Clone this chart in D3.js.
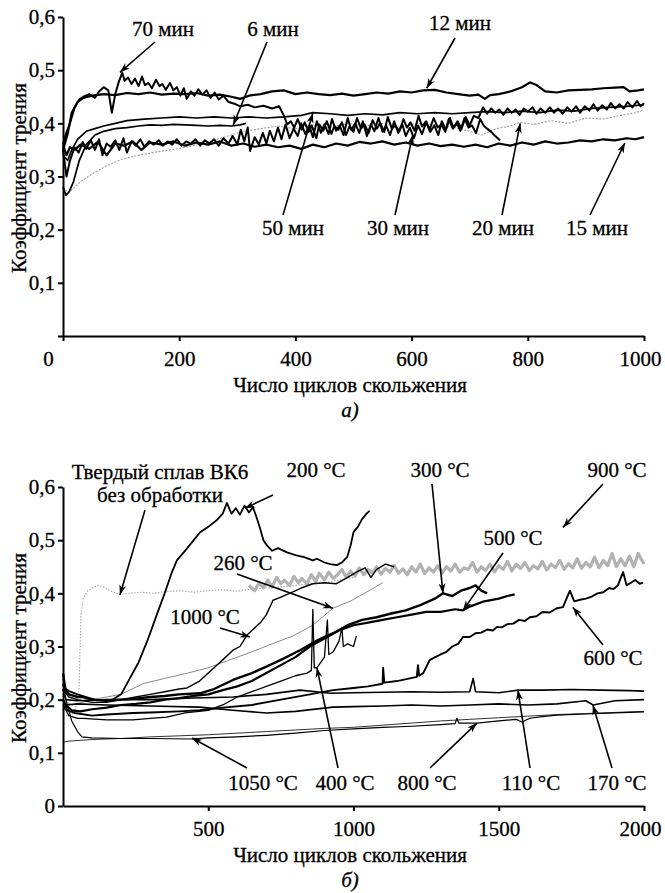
<!doctype html>
<html lang="ru">
<head>
<meta charset="utf-8">
<title>Коэффициент трения</title>
<script src="https://d3js.org/d3.v7.min.js"></script>
<style>
  body { margin: 0; background: #fff; }
  .axis path, .axis line { stroke: #000; stroke-width: 2; }
  .axis text { font-size: 21px; fill: #000; stroke: #000; stroke-width: 0.3; }
  .lbl { font-size: 21px; fill: #000; stroke: #000; stroke-width: 0.3; text-anchor: middle; }
  .arrow { stroke: #000; stroke-width: 1.6; fill: none; }
  .curve { fill: none; stroke-linejoin: round; }
</style>
</head>
<body>
<svg id="chart" width="665" height="893"></svg>
<script>
const FONT = "'Liberation Serif', 'DejaVu Serif', serif";

// ---------- panel a: cycles (0..1000) vs friction coefficient ----------
const min12 = [[0,.35],[8,.38],[15,.42],[25,.44],[35,.448],[50,.452],[70,.455],[90,.453],[110,.457],[130,.455],[150,.458],[170,.454],[190,.456],[210,.455],[230,.457],[250,.452],[270,.454],[290,.45],[305,.446],[320,.452],[340,.455],[360,.46],[380,.462],[400,.455],[420,.458],[440,.455],[460,.453],[480,.456],[500,.452],[520,.455],[540,.458],[560,.456],[580,.46],[600,.458],[620,.462],[640,.463],[660,.458],[680,.455],[700,.452],[715,.454],[726,.446],[735,.453],[750,.455],[770,.46],[790,.468],[804,.477],[815,.472],[830,.46],[850,.458],[870,.462],[890,.463],[910,.464],[930,.466],[950,.467],[965,.468],[975,.46],[990,.462],[1000,.464]];
const min70 = [[0,.36],[5,.38],[12,.40],[20,.43],[28,.445],[35,.45],[45,.455],[55,.448],[62,.46],[70,.468],[78,.462],[84,.42],[90,.455],[96,.478],[102,.495],[106,.48],[112,.486],[118,.474],[124,.484],[130,.47],[136,.488],[141,.472],[147,.476],[153,.466],[160,.482],[166,.47],[171,.474],[177,.463],[184,.476],[190,.462],[196,.468],[202,.452],[208,.466],[213,.446],[220,.46],[226,.452],[233,.464],[240,.454],[247,.462],[254,.448],[261,.458],[268,.445],[276,.452],[285,.44],[295,.437],[305,.432],[318,.435],[330,.43],[345,.433],[360,.428],[372,.432],[380,.415],[386,.398],[392,.404],[398,.392],[404,.408],[411,.388],[416,.402],[423,.384],[428,.396],[436,.372],[441,.398],[448,.386],[454,.404],[462,.38],[467,.395],[474,.388],[480,.402],[487,.378],[493,.394],[500,.384],[506,.41],[513,.39],[519,.398],[526,.382],[533,.406],[540,.39],[546,.4],[553,.384],[559,.412],[566,.39],[572,.396],[579,.385],[586,.408],[592,.392],[598,.402],[605,.386],[612,.414],[618,.394],[625,.404],[631,.388],[638,.41],[645,.392],[651,.398],[658,.384],[664,.408],[671,.39],[678,.4],[684,.386],[691,.41],[698,.392],[704,.396],[711,.382],[718,.408],[724,.396],[730,.39],[737,.384],[744,.376],[752,.368]];
const min30 = [[0,.35],[6,.30],[12,.33],[20,.355],[27,.345],[34,.365],[40,.352],[48,.368],[55,.35],[62,.37],[68,.34],[75,.362],[82,.356],[90,.368],[97,.35],[104,.372],[110,.345],[118,.366],[125,.358],[133,.37],[140,.356],[148,.366],[156,.36],[165,.368],[172,.358],[180,.366],[188,.36],[196,.37],[204,.358],[212,.366],[220,.362],[228,.37],[236,.358],[244,.368],[252,.362],[260,.37],[268,.358],[276,.372],[285,.362],[292,.376],[300,.36],[306,.388],[312,.366],[318,.392],[322,.348],[330,.374],[337,.36],[344,.382],[350,.362],[356,.386],[363,.366],[370,.392],[376,.37],[383,.398],[390,.372],[397,.39],[404,.376],[410,.40],[417,.38],[424,.396],[430,.374],[437,.404],[444,.382],[450,.398],[457,.38],[463,.408],[470,.386],[476,.396],[483,.378],[490,.41],[496,.388],[503,.4],[510,.382],[516,.404],[523,.376],[530,.398],[536,.385],[543,.41],[550,.384],[556,.396],[563,.378],[570,.404],[577,.382],[584,.398],[590,.376],[597,.392],[604,.372],[611,.396],[618,.38],[625,.402],[632,.384],[639,.396],[646,.378],[652,.404],[659,.388],[666,.41],[672,.392],[679,.404],[686,.39],[693,.412],[700,.396],[707,.414],[715,.41],[723,.43],[730,.418],[737,.428],[744,.42],[751,.426],[758,.416],[765,.428],[772,.42],[779,.426],[786,.416],[793,.428],[800,.422],[808,.43],[815,.418],[822,.428],[830,.42],[838,.43],[845,.42],[852,.428],[860,.418],[868,.43],[875,.422],[883,.432],[890,.42],[898,.432],[906,.424],[913,.436],[920,.424],[928,.434],[936,.426],[943,.438],[950,.428],[958,.436],[965,.428],[972,.44],[980,.43],[988,.442],[994,.432],[1000,.438]];
const min50 = [[0,.34],[8,.33],[15,.35],[25,.37],[40,.385],[55,.39],[70,.395],[90,.40],[110,.405],[140,.408],[170,.41],[200,.412],[230,.41],[260,.412],[290,.41],[320,.412],[350,.41],[380,.412],[410,.415],[430,.42],[460,.418],[490,.415],[520,.418],[550,.416],[580,.42],[610,.418],[640,.42],[670,.418],[700,.42],[730,.422],[760,.42],[790,.423],[820,.42],[850,.425],[880,.423],[910,.428],[940,.43],[970,.432],[1000,.435]];
const min6 = [[0,.28],[5,.265],[10,.27],[18,.29],[28,.33],[40,.36],[55,.378],[70,.385],[90,.39],[110,.392],[130,.395],[150,.397],[170,.396],[190,.398],[210,.397],[230,.396],[250,.395],[270,.396],[290,.395],[305,.397],[315,.40]];
const min20 = [[0,.28],[8,.27],[15,.275],[30,.29],[50,.305],[75,.32],[100,.332],[130,.34],[160,.346],[196,.352],[225,.358],[253,.366],[280,.375],[310,.385],[340,.39],[370,.395],[400,.39],[430,.397],[460,.392],[490,.40],[520,.395],[550,.40],[580,.393],[610,.40],[640,.397],[670,.393],[700,.385],[720,.378],[745,.39],[770,.395],[786,.402],[810,.398],[840,.405],[870,.40],[900,.41],[930,.408],[960,.415],[985,.42],[1000,.425]];
const min15 = [[0,.36],[6,.34],[12,.355],[20,.35],[30,.36],[45,.352],[60,.365],[75,.34],[90,.362],[105,.358],[120,.366],[135,.35],[150,.364],[170,.36],[190,.366],[210,.358],[230,.364],[250,.36],[270,.366],[290,.358],[310,.362],[330,.356],[350,.36],[370,.355],[390,.358],[410,.352],[430,.36],[450,.355],[470,.362],[490,.358],[510,.365],[530,.362],[550,.366],[570,.36],[590,.364],[610,.358],[630,.362],[650,.357],[670,.36],[690,.356],[710,.36],[730,.355],[750,.362],[770,.358],[790,.364],[810,.36],[830,.366],[850,.362],[870,.364],[890,.368],[910,.366],[930,.37],[950,.368],[970,.372],[985,.37],[1000,.374]];

// ---------- panel b: cycles (0..2000) ----------
const vk6 = [[0,.17],[20,.17],[40,.175],[55,.22],[62,.36],[70,.39],[85,.405],[100,.41],[120,.415],[140,.412],[160,.405],[196,.398],[230,.40],[270,.402],[310,.40],[350,.403],[400,.405],[450,.402],[500,.405],[550,.407],[600,.404],[650,.408],[700,.41],[750,.412],[800,.415],[850,.418],[900,.42],[950,.425],[1000,.43]];
const t900 = [[640,.415],[660,.405],[675,.42],[690,.41],[705,.425],[720,.412],[735,.43],[750,.418],[762,.425],[780,.415],[795,.432],[810,.42],[822,.428],[840,.418],[855,.435],[870,.422],[882,.438],[900,.425],[915,.44],[930,.428],[945,.435],[960,.445],[975,.43],[990,.442],[1005,.432],[1020,.448],[1035,.435],[1050,.445],[1065,.438],[1080,.45],[1095,.436],[1110,.447],[1125,.44],[1140,.452],[1155,.438],[1170,.446],[1185,.435],[1200,.45],[1215,.44],[1230,.455],[1245,.437],[1260,.448],[1275,.44],[1290,.452],[1305,.438],[1320,.45],[1335,.442],[1350,.455],[1365,.44],[1380,.448],[1395,.445],[1410,.458],[1425,.44],[1440,.45],[1455,.443],[1470,.455],[1485,.44],[1500,.452],[1515,.445],[1530,.46],[1545,.442],[1560,.455],[1575,.447],[1590,.458],[1605,.443],[1620,.452],[1635,.446],[1650,.46],[1665,.444],[1680,.455],[1695,.448],[1710,.462],[1725,.445],[1740,.456],[1755,.448],[1770,.465],[1785,.447],[1800,.458],[1815,.45],[1830,.468],[1845,.448],[1860,.462],[1875,.452],[1890,.475],[1905,.45],[1920,.465],[1935,.452],[1950,.47],[1965,.45],[1980,.475],[2000,.455]];
const t200 = [[0,.23],[10,.22],[25,.215],[50,.21],[80,.205],[110,.2],[140,.198],[170,.2],[200,.21],[230,.24],[260,.27],[290,.31],[323,.36],[350,.40],[375,.44],[392,.462],[420,.48],[450,.50],[472,.515],[500,.525],[530,.538],[550,.55],[564,.57],[580,.55],[595,.56],[609,.548],[625,.565],[640,.552],[654,.562],[665,.545],[678,.523],[690,.50],[702,.49],[720,.48],[740,.485],[771,.477],[800,.472],[830,.468],[860,.462],[874,.465],[900,.458],[920,.455],[943,.453],[960,.458],[978,.468],[990,.49],[1000,.515],[1015,.525],[1030,.54],[1045,.55],[1055,.555]];
const t260 = [[0,.2],[30,.19],[100,.2],[200,.21],[275,.23],[350,.24],[430,.25],[500,.26],[575,.275],[650,.29],[720,.305],[792,.32],[860,.34],[929,.372],[988,.385],[1057,.406],[1100,.42]];
const t1000 = [[0,.22],[20,.205],[50,.2],[100,.195],[150,.195],[200,.2],[250,.205],[300,.21],[350,.215],[400,.22],[427,.222],[470,.235],[520,.26],[560,.28],[585,.293],[609,.30],[633,.321],[650,.33],[680,.345],[700,.36],[723,.387],[750,.393],[780,.40],[820,.41],[860,.418],[900,.42],[940,.418],[980,.43],[1010,.44],[1040,.448],[1060,.43],[1080,.445],[1110,.455],[1140,.45]];
const t300 = [[0,.25],[8,.22],[20,.21],[50,.205],[69,.205],[100,.2],[150,.198],[200,.2],[250,.202],[300,.205],[350,.207],[400,.21],[471,.212],[520,.22],[585,.237],[650,.25],[700,.262],[750,.275],[816,.293],[870,.31],[930,.325],[980,.34],[1030,.35],[1080,.355],[1130,.362],[1180,.368],[1230,.378],[1280,.39],[1308,.40],[1340,.395],[1370,.405],[1400,.41],[1420,.415],[1440,.405],[1460,.40]];
const t500 = [[0,.2],[10,.19],[30,.18],[60,.178],[100,.182],[150,.185],[200,.19],[250,.192],[300,.195],[350,.2],[400,.203],[450,.207],[500,.21],[550,.218],[600,.225],[650,.235],[700,.25],[750,.265],[800,.28],[850,.3],[900,.315],[950,.33],[1000,.34],[1050,.345],[1100,.35],[1150,.355],[1200,.36],[1250,.365],[1300,.365],[1350,.37],[1377,.368],[1400,.375],[1450,.385],[1500,.39],[1530,.395],[1555,.398]];
const t400 = [[0,.19],[20,.17],[50,.165],[70,.165],[150,.162],[241,.162],[300,.165],[357,.167],[420,.175],[500,.18],[550,.19],[600,.205],[650,.215],[700,.225],[750,.235],[800,.245],[840,.25],[855,.255],[860,.37],[865,.26],[874,.26],[900,.28],[910,.35],[915,.285],[930,.29],[950,.31],[960,.335],[965,.3],[980,.305],[1000,.3],[1010,.32]];
const t600 = [[0,.2],[15,.18],[40,.175],[100,.17],[150,.172],[241,.175],[300,.176],[400,.178],[471,.18],[550,.185],[650,.19],[750,.2],[850,.21],[930,.218],[1000,.222],[1050,.225],[1100,.23],[1102,.26],[1106,.232],[1150,.235],[1218,.243],[1222,.265],[1226,.245],[1240,.25],[1263,.275],[1300,.285],[1320,.29],[1340,.3],[1360,.305],[1377,.318],[1400,.318],[1420,.325],[1440,.326],[1460,.332],[1480,.33],[1494,.337],[1510,.336],[1530,.342],[1550,.343],[1570,.35],[1590,.348],[1607,.355],[1630,.357],[1650,.365],[1675,.364],[1700,.372],[1721,.374],[1745,.405],[1760,.385],[1780,.388],[1800,.39],[1820,.394],[1840,.40],[1860,.402],[1880,.41],[1895,.408],[1910,.415],[1928,.44],[1940,.415],[1955,.42],[1970,.425],[1985,.418],[1997,.42]];
const t110 = [[0,.22],[10,.2],[50,.198],[154,.2],[300,.2],[450,.203],[585,.205],[700,.21],[816,.218],[920,.212],[1000,.213],[1100,.214],[1200,.215],[1300,.214],[1400,.215],[1412,.24],[1420,.215],[1500,.213],[1567,.218],[1650,.218],[1750,.219],[1850,.218],[1950,.217],[2000,.216]];
const t170 = [[0,.18],[10,.19],[50,.192],[150,.19],[300,.188],[471,.186],[585,.18],[700,.175],[800,.178],[930,.186],[1000,.187],[1100,.188],[1200,.19],[1300,.188],[1400,.19],[1500,.192],[1600,.19],[1700,.192],[1800,.198],[1825,.19],[1900,.198],[2000,.2]];
const t800 = [[0,.23],[10,.2],[30,.16],[50,.14],[65,.13],[100,.128],[200,.127],[300,.127],[443,.126],[500,.128],[600,.13],[700,.133],[800,.137],[900,.142],[1000,.145],[1100,.148],[1200,.15],[1300,.153],[1350,.155],[1356,.165],[1362,.156],[1425,.156],[1500,.16],[1560,.163],[1580,.158],[1607,.165],[1650,.168],[1700,.171],[1800,.173],[1900,.175],[2000,.177]];
const t1050 = [[0,.12],[20,.122],[100,.125],[200,.127],[300,.13],[400,.132],[500,.134],[600,.137],[700,.14],[800,.143],[900,.146],[1000,.148],[1100,.152],[1200,.156],[1300,.16],[1400,.163],[1500,.166],[1600,.169],[1700,.172],[1800,.174],[1900,.176],[2000,.178]];

const yTicks = [0, .1, .2, .3, .4, .5, .6];
const xTicksA = [0, 200, 400, 600, 800, 1000];
const xTicksB = [500, 1000, 1500, 2000];

const svg = d3.select('#chart');

svg.append('defs').append('marker')
  .attr('id', 'arr')
  .attr('viewBox', '0 -4 10 8')
  .attr('refX', 10).attr('refY', 0)
  .attr('markerWidth', 10).attr('markerHeight', 8)
  .attr('markerUnits', 'userSpaceOnUse')
  .attr('orient', 'auto')
  .append('path')
  .attr('d', 'M0,-3.5L10,0L0,3.5L3,0Z')
  .attr('fill', '#000');

const comma = d => d3.format('.1f')(d).replace('.', ',');

function panel(opts) {
  const x = d3.scaleLinear().domain([0, opts.xmax]).range([63, 644]);
  const y = d3.scaleLinear().domain([0, 0.6]).range([opts.y0, opts.y0 - 319]);
  const g = svg.append('g');

  const line = d3.line().x(d => x(d[0])).y(d => y(d[1]));
  g.append('g').selectAll('path')
    .data(opts.series)
    .join('path')
    .attr('class', 'curve')
    .attr('d', d => line(d.data))
    .attr('stroke', d => d.color)
    .attr('stroke-width', d => d.width)
    .attr('stroke-dasharray', d => d.dash || null);

  g.append('g').attr('class', 'axis')
    .attr('transform', 'translate(63,0)')
    .call(d3.axisLeft(y).tickValues(yTicks).tickSize(5).tickSizeOuter(0).tickPadding(3)
      .tickFormat(d => d === 0 ? (opts.yZero ? '0' : '') : comma(d)));
  const xAxis = g.append('g').attr('class', 'axis')
    .attr('transform', 'translate(0,' + opts.y0 + ')')
    .call(d3.axisBottom(x).tickValues(opts.xTicks).tickSize(5).tickSizeOuter(0).tickPadding(10)
      .tickFormat(d3.format('d')));
  xAxis.selectAll('.tick text').filter(d => d === 0).attr('x', -15);
  xAxis.selectAll('.tick text').filter(d => d === opts.xmax).attr('x', -4);
  g.selectAll('.axis').attr('font-size', 21).attr('font-family', FONT);

  g.append('text').attr('class', 'lbl')
    .attr('transform', 'translate(26,' + (opts.y0 - 158) + ') rotate(-90)')
    .text('Коэффициент трения');
  g.append('text').attr('class', 'lbl')
    .attr('x', 350).attr('y', opts.y0 + 56)
    .text('Число циклов скольжения');
  g.append('text').attr('class', 'lbl')
    .attr('x', 350).attr('y', opts.y0 + 81)
    .style('font-style', 'italic')
    .text(opts.tag);

  const notes = g.append('g').selectAll('g').data(opts.notes).join('g');
  notes.append('line').attr('class', 'arrow')
    .attr('x1', d => d.from[0]).attr('y1', d => d.from[1])
    .attr('x2', d => x(d.tip[0])).attr('y2', d => y(d.tip[1]))
    .attr('marker-end', 'url(#arr)');
  notes.each(function (d) {
    d.text.split('\n').forEach((s, i) => {
      d3.select(this).append('text').attr('class', 'lbl')
        .attr('x', d.at[0]).attr('y', d.at[1] + i * 23)
        .text(s);
    });
  });

  g.selectAll('.lbl').attr('font-family', FONT);
}

panel({
  xmax: 1000, y0: 336, xTicks: xTicksA, yZero: false, tag: 'а)',
  series: [
    { data: min20, color: '#9a9a9a', width: 1.1, dash: '2,1.5' },
    { data: min6, color: '#000', width: 1.7 },
    { data: min50, color: '#000', width: 1.7 },
    { data: min15, color: '#000', width: 2.2 },
    { data: min30, color: '#000', width: 2 },
    { data: min70, color: '#000', width: 2 },
    { data: min12, color: '#000', width: 2.2 }
  ],
  notes: [
    { text: '70 мин', at: [163, 36], from: [155, 42], tip: [98, .496] },
    { text: '6 мин', at: [273, 36], from: [267, 42], tip: [293, .397] },
    { text: '12 мин', at: [460, 30], from: [455, 38], tip: [626, .466] },
    { text: '50 мин', at: [293, 235], from: [283, 215], tip: [430, .419] },
    { text: '30 мин', at: [398, 235], from: [395, 215], tip: [602, .378] },
    { text: '20 мин', at: [503, 235], from: [502, 215], tip: [787, .40] },
    { text: '15 мин', at: [597, 235], from: [590, 215], tip: [967, .363] }
  ]
});

panel({
  xmax: 2000, y0: 806, xTicks: xTicksB, yZero: true, tag: 'б)',
  series: [
    { data: vk6, color: '#b0b0b0', width: 1.2, dash: '1.5,1.5' },
    { data: t900, color: '#b2b2b2', width: 3.2 },
    { data: t260, color: '#8a8a8a', width: 1 },
    { data: t1050, color: '#333', width: 1 },
    { data: t800, color: '#000', width: 1.2 },
    { data: t170, color: '#000', width: 1.6 },
    { data: t110, color: '#000', width: 1.6 },
    { data: t400, color: '#000', width: 1.3 },
    { data: t600, color: '#000', width: 1.9 },
    { data: t500, color: '#000', width: 2.2 },
    { data: t300, color: '#000', width: 2.4 },
    { data: t1000, color: '#000', width: 1.4 },
    { data: t200, color: '#000', width: 1.8 }
  ],
  notes: [
    { text: 'Твердый сплав ВК6\nбез обработки', at: [160, 479], from: [145, 510], tip: [196, .397] },
    { text: '200 °C', at: [316, 477], from: [273, 495], tip: [626, .56] },
    { text: '260 °C', at: [243, 570], from: [237, 574], tip: [929, .372] },
    { text: '1000 °C', at: [205, 624], from: [220, 628], tip: [644, .318] },
    { text: '300 °C', at: [440, 477], from: [432, 484], tip: [1308, .40] },
    { text: '900 °C', at: [617, 477], from: [603, 484], tip: [1721, .524] },
    { text: '500 °C', at: [513, 545], from: [503, 553], tip: [1377, .368] },
    { text: '600 °C', at: [613, 665], from: [603, 645], tip: [1755, .374] },
    { text: '1050 °C', at: [263, 790], from: [247, 768], tip: [444, .128] },
    { text: '400  °C', at: [345, 790], from: [338, 768], tip: [874, .26] },
    { text: '800 °C', at: [427, 790], from: [430, 768], tip: [1425, .156] },
    { text: '110 °C', at: [531, 790], from: [530, 768], tip: [1566, .218] },
    { text: '170 °C', at: [617, 790], from: [612, 768], tip: [1824, .19] }
  ]
});
</script>
</body>
</html>
